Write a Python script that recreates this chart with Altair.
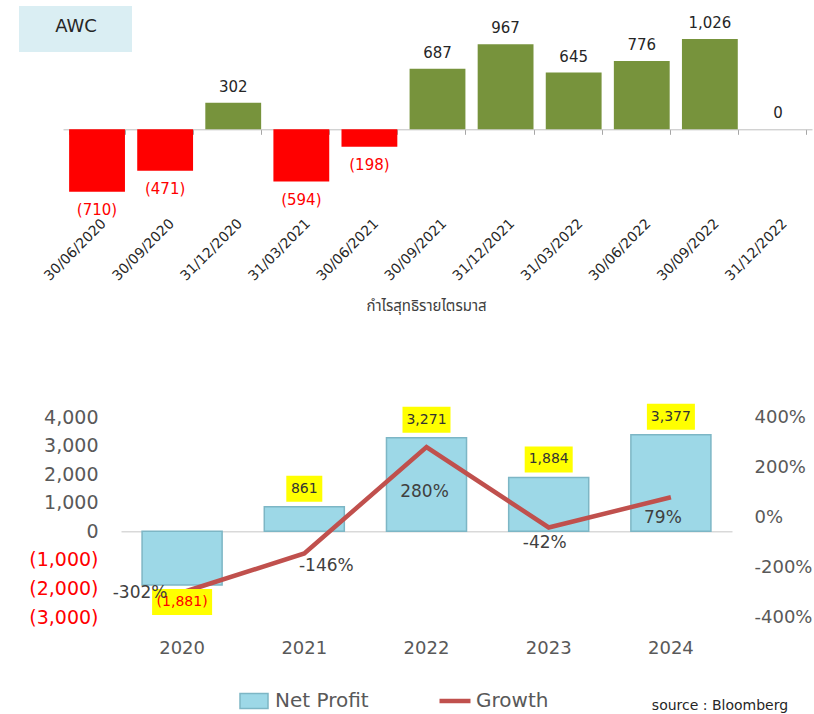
import altair as alt
import pandas as pd

# ---------------- data ----------------
quarters = ["30/06/2020", "30/09/2020", "31/12/2020", "31/03/2021", "30/06/2021",
            "30/09/2021", "31/12/2021", "31/03/2022", "30/06/2022", "30/09/2022", "31/12/2022"]
quarter_profit = [-710, -471, 302, -594, -198, 687, 967, 645, 776, 1026, 0]

years = ["2020", "2021", "2022", "2023", "2024"]
net_profit = [-1881, 861, 3271, 1884, 3377]
growth = [-302, -146, 280, -42, 79]

title_text = "AWC"
caption_text = "กำไรสุทธิรายไตรมาส"
source_text = "source : Bloomberg"

# ---------------- style ----------------
W, H = 814, 714
FONT = "DejaVu Sans"
THAI_FONT = "Noto Sans Thai, Noto Sans Thai UI, Noto Sans, Tahoma, sans-serif"
GREEN = "#77933C"
RED = "#FF0000"
BLUE = "#9DD8E7"
BLUE_EDGE = "#7DB6C5"
LINE = "#C0504D"
GRAY = "#595959"

top_df = pd.DataFrame({"quarter": quarters, "profit": quarter_profit})
bot_df = pd.DataFrame({"year": years, "net_profit": net_profit, "growth": growth})


def xq(axis=None):
    return alt.X("quarter:N",
                 scale=alt.Scale(domain=quarters, range=[63, 812], paddingInner=0.18, paddingOuter=0.09),
                 axis=axis)


def yq():
    return alt.Y("profit:Q",
                 scale=alt.Scale(domain=[-1000, 1200], range=[217.3, 23.7], nice=False, zero=False),
                 axis=None)


def xb(axis=None):
    return alt.X("year:N",
                 scale=alt.Scale(domain=years, range=[121, 732], paddingInner=0.345, paddingOuter=0.1725),
                 axis=axis)


def yl(axis=None):
    return alt.Y("net_profit:Q",
                 scale=alt.Scale(domain=[-3000, 4000], range=[617, 417], nice=False, zero=False),
                 axis=axis)


def yr(axis=None):
    return alt.Y("growth:Q",
                 scale=alt.Scale(domain=[-400, 400], range=[617, 417], nice=False, zero=False),
                 axis=axis)


q_label = "datum.profit < 0 ? '(' + format(-datum.profit, ',') + ')' : format(datum.profit, ',')"
np_label = "datum.net_profit < 0 ? '(' + format(-datum.net_profit, ',') + ')' : format(datum.net_profit, ',')"

# ---------------- top chart ----------------
one = pd.DataFrame({"t": [title_text]})
awc_box = alt.Chart(one).mark_rect(color="#DAEEF3").encode(
    x=alt.value(19), x2=alt.value(132), y=alt.value(6), y2=alt.value(52))
awc_txt = alt.Chart(one).mark_text(font=FONT, fontSize=18, color="#262626",
                                   align="center", baseline="middle").encode(
    x=alt.value(76), y=alt.value(27), text="t:N")

label_axis = alt.Axis(orient="bottom", offset=217 - H, domain=False, ticks=False, tickSize=0,
                      grid=False, labelAngle=-45, labelAlign="right", labelBaseline="middle",
                      labelPadding=4, labelOffset=7, labelFont=FONT, labelFontSize=14,
                      labelColor="#262626", labelOverlap=False, labelFlush=False,
                      title=caption_text, titleFont=THAI_FONT, titleFontSize=15,
                      titleFontWeight="normal", titleColor="#404040", titleX=426, titleY=88,
                      titleAlign="center", titleBaseline="middle")

top_bars = alt.Chart(top_df).mark_bar().encode(
    x=xq(label_axis),
    y=yq(),
    y2=alt.datum(0),
    color=alt.condition("datum.profit < 0", alt.value(RED), alt.value(GREEN)),
)

zero_axis_top = alt.Axis(orient="bottom", offset=129.3 - H, domain=True, domainColor="#BFBFBF",
                         domainWidth=1, ticks=True, tickBand="extent", tickSize=5,
                         tickColor="#A6A6A6", labels=False, title=None, grid=False)

top_lbl_pos = alt.Chart(top_df).transform_filter("datum.profit >= 0").transform_calculate(
    lbl=q_label).mark_text(font=FONT, fontSize=15, color="#262626", dy=-16, baseline="middle").encode(
    x=xq(zero_axis_top), y=yq(), text="lbl:N")

top_lbl_neg = alt.Chart(top_df).transform_filter("datum.profit < 0").transform_calculate(
    lbl=q_label).mark_text(font=FONT, fontSize=15, color=RED, dy=18, baseline="middle").encode(
    x=xq(None), y=yq(), text="lbl:N")

# ---------------- bottom chart ----------------
year_axis = alt.Axis(orient="bottom", offset=617 - H, domain=False, ticks=False, tickSize=0,
                     grid=False, labelAngle=0, labelBaseline="middle", labelPadding=31,
                     labelFont=FONT, labelFontSize=18, labelColor=GRAY, title=None)

left_axis = alt.Axis(orient="left", offset=-100, domain=False, ticks=False, tickSize=0, grid=False,
                     values=[-3000, -2000, -1000, 0, 1000, 2000, 3000, 4000],
                     labelExpr="datum.value < 0 ? '(' + format(-datum.value, ',') + ')' : format(datum.value, ',') + '\u00a0'",
                     labelColor={"condition": {"test": "datum.value < 0", "value": RED}, "value": GRAY},
                     labelFont=FONT, labelFontSize=19, labelPadding=2, labelOverlap=False,
                     labelFlush=False, title=None)

right_axis = alt.Axis(orient="right", offset=-62, domain=False, ticks=False, tickSize=0, grid=False,
                      values=[-400, -200, 0, 200, 400], labelExpr="datum.value + '%'",
                      labelFont=FONT, labelFontSize=18, labelColor=GRAY, labelPadding=2,
                      labelOverlap=False, labelFlush=False, title=None)

zero_axis_bot = alt.Axis(orient="bottom", offset=531.3 - H, domain=True, domainColor="#D9D9D9",
                         domainWidth=1.5, ticks=False, labels=False, title=None, grid=False)

bars = alt.Chart(bot_df).transform_calculate(series="'Net Profit'").mark_bar(
    stroke=BLUE_EDGE, strokeWidth=1.5).encode(
    x=xb(year_axis),
    y=yl(left_axis),
    y2=alt.datum(0),
    fill=alt.Fill("series:N", scale=alt.Scale(domain=["Net Profit"], range=[BLUE]),
                  legend=alt.Legend(orient="none", legendX=239, legendY=686, title=None, padding=0,
                                    symbolType="M-1,-0.536L1,-0.536L1,0.536L-1,0.536Z",
                                    symbolSize=784, symbolStrokeColor=BLUE_EDGE,
                                    symbolStrokeWidth=1.5, labelFont=FONT, labelFontSize=20,
                                    labelColor=GRAY, labelOffset=6)),
)

line = alt.Chart(bot_df).transform_calculate(series2="'Growth'").mark_line(strokeWidth=4.5).encode(
    x=xb(zero_axis_bot),
    y=yr(right_axis),
    stroke=alt.Stroke("series2:N", scale=alt.Scale(domain=["Growth"], range=[LINE]),
                      legend=alt.Legend(orient="none", legendX=437, legendY=683, title=None,
                                        padding=0, symbolType="stroke", symbolSize=961,
                                        symbolStrokeWidth=4.5, labelFont=FONT, labelFontSize=20,
                                        labelColor=GRAY, labelOffset=3)),
)


def box_base():
    return alt.Chart(bot_df).transform_calculate(
        lbl=np_label,
        w="6 * length(datum.lbl) + 18",
    ).transform_calculate(
        path="'M-1,' + (-26 / datum.w) + 'L1,' + (-26 / datum.w) + 'L1,' + (26 / datum.w) + 'L-1,' + (26 / datum.w) + 'Z'",
        sz="datum.w * datum.w",
    )


box_pos = box_base().transform_filter("datum.net_profit >= 0").mark_point(
    filled=True, fill="#FFFF00", opacity=1, strokeWidth=0, yOffset=-18).encode(
    x=xb(None), y=yl(None), shape=alt.Shape("path:N", scale=None), size=alt.Size("sz:Q", scale=None))
box_neg = box_base().transform_filter("datum.net_profit < 0").mark_point(
    filled=True, fill="#FFFF00", opacity=1, strokeWidth=0, yOffset=17).encode(
    x=xb(None), y=yl(None), shape=alt.Shape("path:N", scale=None), size=alt.Size("sz:Q", scale=None))

txt_pos = box_base().transform_filter("datum.net_profit >= 0").mark_text(
    font=FONT, fontSize=14, color="#333333", dy=-18, baseline="middle").encode(
    x=xb(None), y=yl(None), text="lbl:N")
txt_neg = box_base().transform_filter("datum.net_profit < 0").mark_text(
    font=FONT, fontSize=14, color=RED, dy=17, baseline="middle").encode(
    x=xb(None), y=yl(None), text="lbl:N")

growth_offsets = {"2020": (-42, 0), "2021": (22, 12), "2022": (-2, 45), "2023": (-4, 15.5), "2024": (-8, 21)}
growth_labels = []
for yr_name, (ddx, ddy) in growth_offsets.items():
    growth_labels.append(
        alt.Chart(bot_df).transform_filter(f"datum.year == '{yr_name}'").transform_calculate(
            glbl="datum.growth + '%'").mark_text(
            font=FONT, fontSize=17, color="#404040", dx=ddx, dy=ddy, baseline="middle").encode(
            x=xb(None), y=yr(None), text="glbl:N"))

src = alt.Chart(pd.DataFrame({"s": [source_text]})).mark_text(
    font=FONT, fontSize=14, color="#262626", align="center", baseline="middle").encode(
    x=alt.value(720), y=alt.value(706), text="s:N")

chart = alt.layer(
    awc_box, awc_txt, top_bars, top_lbl_pos, top_lbl_neg,
    bars, line, box_pos, box_neg, txt_pos, txt_neg, *growth_labels, src
).resolve_scale(
    x="independent", y="independent"
).properties(
    width=W, height=H, autosize=alt.AutoSizeParams(type="none"), padding=0, background="white"
).configure_view(stroke=None)

chart.save("out.html", embed_options={"renderer": "svg", "actions": False})
